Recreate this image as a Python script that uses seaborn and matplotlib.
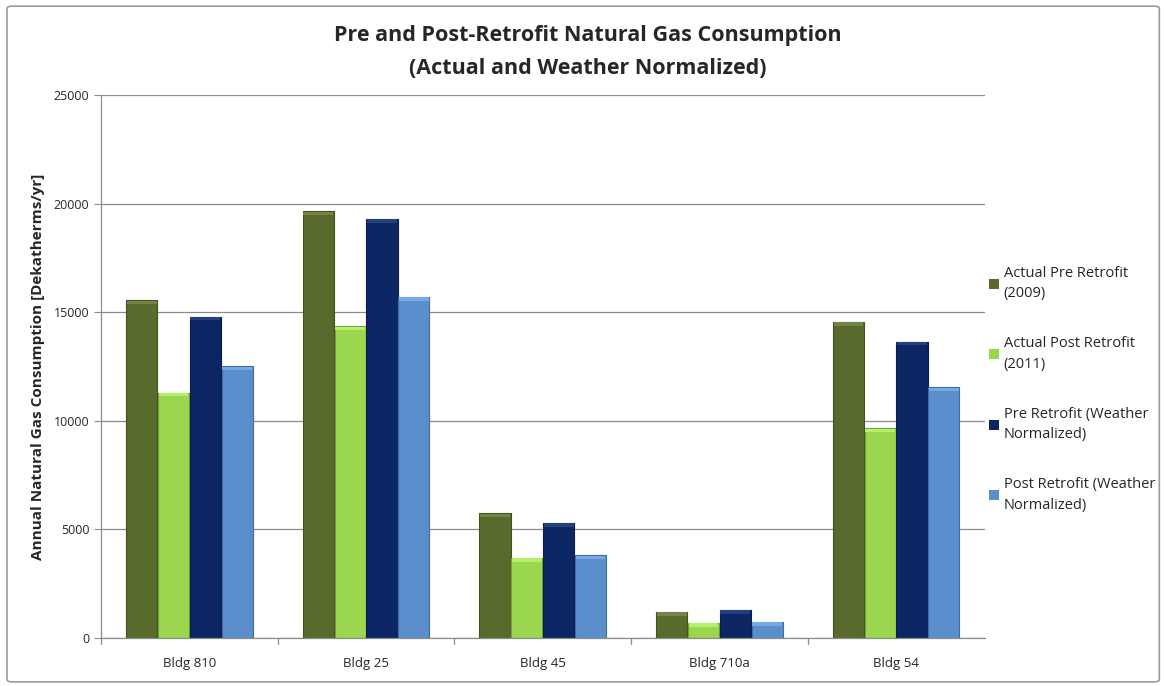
import pandas as pd
import numpy as np
import seaborn as sns
import matplotlib.pyplot as plt
from matplotlib.patches import Rectangle, FancyBboxPatch

# data
buildings = ["Bldg 810", "Bldg 25", "Bldg 45", "Bldg 710a", "Bldg 54"]
series = ["Actual Pre Retrofit\n(2009)", "Actual Post Retrofit\n(2011)",
          "Pre Retrofit (Weather\nNormalized)", "Post Retrofit (Weather\nNormalized)"]
actual_pre = [15550, 19650, 5750, 1200, 14550]
actual_post = [11300, 14350, 3700, 700, 9650]
pre_wn = [14800, 19300, 5300, 1300, 13650]
post_wn = [12500, 15700, 3800, 750, 11550]
colors = ["#586b2d", "#9ad74f", "#0c2664", "#5b8ecd"]

df = pd.DataFrame({
    "building": buildings * 4,
    "series": np.repeat(series, len(buildings)),
    "value": actual_pre + actual_post + pre_wn + post_wn,
})

sns.set_style("white")
plt.rcParams['font.family'] = ['Open Sans', 'DejaVu Sans']

fig = plt.figure(figsize=(11.64, 6.86), dpi=100)
ax = fig.add_axes([0.0868, 0.07, 0.759, 0.7915])

sns.barplot(data=df, x="building", y="value", hue="series", palette=colors,
            saturation=1, width=0.72, gap=0.02, linewidth=0, ax=ax)

# subtle bevel: darker outline and lighter strip at the top of each bar
for bar in list(ax.patches):
    h = bar.get_height()
    if h <= 0:
        continue
    fc = bar.get_facecolor()
    dark = tuple(c * 0.75 for c in fc[:3])
    bar.set_edgecolor(dark)
    bar.set_linewidth(0.8)
    light = tuple(min(1, c + 0.10) for c in fc[:3])
    ax.add_patch(Rectangle((bar.get_x() + 0.004, h - 180), bar.get_width() - 0.008, 160,
                           facecolor=light, edgecolor="none", zorder=bar.get_zorder() + 0.1))

ax.set_ylim(0, 25000)
ax.set_xlim(-0.5, 4.5)
ax.set_yticks(range(0, 25001, 5000))
ax.yaxis.grid(True, color="#8c8c8c", linewidth=0.9)
ax.set_axisbelow(True)
ax.set_xlabel("")
ax.set_ylabel("Annual Natural Gas Consumption [Dekatherms/yr]", fontsize=11,
              fontweight="bold", labelpad=6)
ax.tick_params(axis="y", labelsize=9, length=5, color="#8c8c8c", left=True)
ax.tick_params(axis="x", labelsize=9.5, length=0, pad=14)

# x tick marks between categories
for xb in np.arange(-0.5, 4.5, 1):
    ax.plot([xb, xb], [0, -0.012], transform=ax.get_xaxis_transform(),
            color="#8c8c8c", linewidth=0.9, clip_on=False)

for side in ["top", "right"]:
    ax.spines[side].set_visible(False)
for side in ["left", "bottom"]:
    ax.spines[side].set_color("#8c8c8c")
    ax.spines[side].set_linewidth(0.9)

handles, labels = ax.get_legend_handles_labels()
ax.legend_.remove()
leg = fig.legend(handles, labels, loc="upper left", bbox_to_anchor=(0.838, 0.632),
                 frameon=False, fontsize=10.5, handlelength=0.7, handleheight=0.7,
                 handletextpad=0.35, labelspacing=2.4)
for t in leg.get_texts():
    t.set_linespacing(1.5)

fig.text(0.505, 0.948, "Pre and Post-Retrofit Natural Gas Consumption",
         ha="center", va="center", fontsize=15.5, fontweight="bold")
fig.text(0.505, 0.900, "(Actual and Weather Normalized)",
         ha="center", va="center", fontsize=15.5, fontweight="bold")

# chart frame
fig.patches.append(FancyBboxPatch((0.006, 0.006), 0.99, 0.985,
                                  boxstyle="round,pad=0,rounding_size=0.004",
                                  transform=fig.transFigure, fill=False,
                                  edgecolor="#9a9a9a", linewidth=1.2))

plt.savefig("out.png", dpi=100)
